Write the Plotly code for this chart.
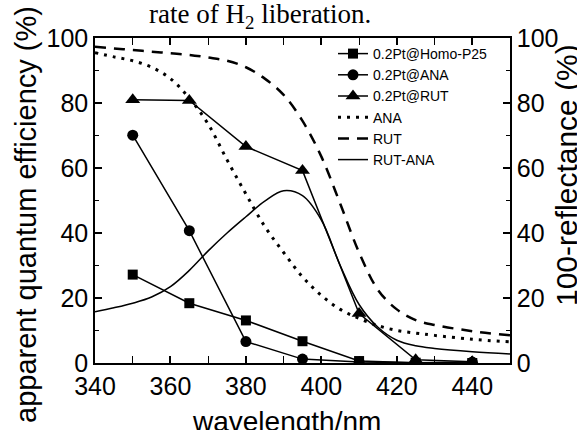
import plotly.graph_objects as go

# ---- data ----
qe_wl = [350, 365, 380, 395, 410, 425, 440]
p25 = [27.2, 18.4, 13.1, 6.7, 0.6, 0.1, 0.0]
ana_qe = [70.1, 40.7, 6.6, 1.2, 0.3, 0.1, 0.3]
rut_qe = [81.0, 80.8, 66.6, 59.2, 15.2, 1.0, 0.4]

ref_wl = [340, 345, 350, 355, 360, 365, 370, 375, 380, 385, 390, 395, 400,
          405, 410, 415, 420, 425, 430, 440, 450]
ana_ref = [95.5, 94.2, 93.0, 91.0, 87.5, 81.5, 73.5, 62.5, 52.0, 42.0, 34.0,
           26.5, 20.8, 16.5, 13.7, 11.5, 10.0, 9.2, 8.5, 7.3, 6.5]
rut_ref = [97.3, 96.8, 96.3, 95.8, 95.3, 94.8, 94.0, 93.0, 91.0, 87.5, 82.5,
           74.5, 63.5, 49.0, 34.0, 22.5, 16.5, 13.2, 11.7, 9.8, 8.5]
diff_wl = [340, 345, 350, 355, 360, 365, 370, 375, 380, 385, 390, 395, 400,
           405, 410, 415, 420, 425, 430, 440, 450]
diff_ref = [15.8, 17.0, 18.4, 20.3, 23.5, 28.5, 34.5, 40.0, 45.0, 49.8, 53.0,
            51.5, 44.0, 30.0, 18.0, 11.0, 7.0, 5.3, 4.5, 3.5, 2.8]

x_ticks = [340, 360, 380, 400, 420, 440]
y_ticks = [0, 20, 40, 60, 80, 100]

# ---- layout geometry (pixels) ----
W, H = 577, 430
L, R, T, B = 95, 67, 38, 67
pw, ph = W - L - R, H - T - B


def px(xp):
    return (xp - L) / pw


def py(yp):
    return (H - B - yp) / ph


FONT = "Liberation Sans, Arial, sans-serif"
fig = go.Figure()

mk_line = dict(color="black", width=1.5)
fig.add_trace(go.Scatter(x=qe_wl, y=p25, name="0.2Pt@Homo-P25", mode="lines+markers",
                         line=mk_line, marker=dict(symbol="square", size=10, color="black")))
fig.add_trace(go.Scatter(x=qe_wl, y=ana_qe, name="0.2Pt@ANA", mode="lines+markers",
                         line=mk_line, marker=dict(symbol="circle", size=11, color="black")))
fig.add_trace(go.Scatter(x=qe_wl, y=rut_qe, name="0.2Pt@RUT", mode="lines+markers",
                         line=mk_line, marker=dict(symbol="triangle-up", size=13, color="black")))
fig.add_trace(go.Scatter(x=ref_wl, y=ana_ref, name="ANA", mode="lines", yaxis="y2",
                         line=dict(color="black", width=3, dash="3px,6px", shape="spline")))
fig.add_trace(go.Scatter(x=ref_wl, y=rut_ref, name="RUT", mode="lines", yaxis="y2",
                         line=dict(color="black", width=2.5, dash="11px,8px", shape="spline")))
fig.add_trace(go.Scatter(x=diff_wl, y=diff_ref, name="RUT-ANA", mode="lines", yaxis="y2",
                         line=dict(color="black", width=1.5, shape="spline")))

axis_common = dict(showline=True, linecolor="black", linewidth=1.5, ticks="inside",
                   ticklen=7, tickwidth=1.5, tickcolor="black", showgrid=False,
                   zeroline=False, tickfont=dict(family=FONT, size=25, color="black"))
minor = dict(dtick=10, ticks="inside", ticklen=4, tickcolor="black", tickwidth=1.2)

fig.update_layout(
    width=W, height=H,
    margin=dict(l=L, r=R, t=T, b=B),
    plot_bgcolor="white", paper_bgcolor="white",
    showlegend=True,
    legend=dict(x=px(333), y=py(38), xanchor="left", yanchor="top",
                bgcolor="rgba(0,0,0,0)", font=dict(family=FONT, size=14, color="black"),
                tracegroupgap=0, itemwidth=30),
    xaxis=dict(range=[340, 450], tickvals=x_ticks, mirror="allticks", minor=minor,
               **axis_common),
    yaxis=dict(range=[0, 100], tickvals=y_ticks, mirror=False, minor=minor,
               **axis_common),
    yaxis2=dict(range=[0, 100], tickvals=y_ticks, overlaying="y", side="right",
                minor=minor, **axis_common),
)

fig.add_annotation(text="rate of H<sub>2</sub> liberation.", xref="paper", yref="paper",
                   x=px(260), y=py(16), xanchor="center", yanchor="middle", showarrow=False,
                   font=dict(family="Liberation Serif, Times New Roman, serif", size=27, color="black"))
fig.add_annotation(text="wavelength/nm", xref="paper", yref="paper",
                   x=px(286), y=py(421), xanchor="center", yanchor="middle", showarrow=False,
                   font=dict(family=FONT, size=28, color="black"))
fig.add_annotation(text="apparent quantum efficiency (%)", xref="paper", yref="paper",
                   x=px(26), y=py(215), xanchor="center", yanchor="middle", showarrow=False,
                   textangle=-90, font=dict(family=FONT, size=29, color="black"))
fig.add_annotation(text="100-reflectance (%)", xref="paper", yref="paper",
                   x=px(566), y=py(175), xanchor="center", yanchor="middle", showarrow=False,
                   textangle=-90, font=dict(family=FONT, size=30, color="black"))

fig.write_html("out.html", config={"displayModeBar": False},
               post_script="document.body.style.margin='0';document.body.style.overflow='hidden';")
